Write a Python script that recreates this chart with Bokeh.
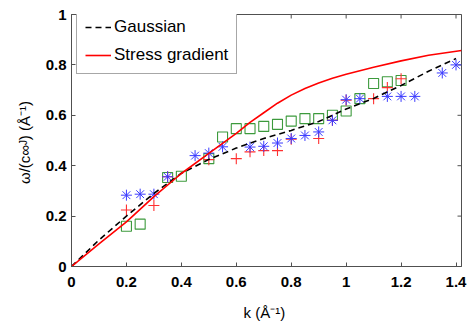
import math
from bokeh.plotting import figure
from bokeh.models import FixedTicker, Range1d, Legend, LegendItem
from bokeh.embed import file_html
from bokeh.resources import INLINE

# ---- data ----
k_star = [0.2, 0.25, 0.3, 0.35, 0.45, 0.5, 0.55, 0.65, 0.7, 0.75, 0.8, 0.85, 0.9,
          0.95, 1.0, 1.05, 1.15, 1.2, 1.25, 1.35, 1.4]
w_star = [0.283, 0.287, 0.287, 0.356, 0.44, 0.45, 0.475, 0.474, 0.477, 0.49, 0.508, 0.52,
          0.534, 0.58, 0.662, 0.666, 0.675, 0.675, 0.675, 0.768, 0.80]

k_plus = [0.2, 0.3, 0.35, 0.5, 0.6, 0.65, 0.7, 0.75, 0.8, 0.9, 0.95, 1.0, 1.1, 1.15, 1.2]
w_plus = [0.224, 0.242, 0.356, 0.424, 0.428, 0.455, 0.46, 0.46, 0.505, 0.508, 0.58, 0.66,
          0.666, 0.71, 0.745]

k_sq = [0.2, 0.25, 0.35, 0.4, 0.5, 0.55, 0.6, 0.65, 0.7, 0.75, 0.8, 0.85, 0.9, 0.95,
        1.0, 1.05, 1.1, 1.15, 1.2]
w_sq = [0.16, 0.168, 0.353, 0.358, 0.428, 0.514, 0.547, 0.547, 0.556, 0.564, 0.577, 0.587,
        0.587, 0.60, 0.617, 0.666, 0.726, 0.733, 0.738]

k_gauss = [0, 0.1, 0.2, 0.3, 0.4, 0.5, 0.6, 0.7, 0.8, 0.9, 1.0, 1.1, 1.2, 1.3, 1.4]
w_gauss = [0, 0.105, 0.2, 0.29, 0.37, 0.425, 0.47, 0.508, 0.54, 0.575, 0.625, 0.667,
           0.718, 0.775, 0.825]

k_stress = [0, 0.1, 0.2, 0.3, 0.4, 0.5, 0.6, 0.65, 0.7, 0.75, 0.8, 0.85, 0.9, 0.95,
            1.0, 1.1, 1.2, 1.3, 1.42]
w_stress = [0, 0.09, 0.177, 0.277, 0.369, 0.449, 0.528, 0.572, 0.61, 0.648, 0.68, 0.706,
            0.728, 0.747, 0.763, 0.791, 0.816, 0.838, 0.857]

x_ticks = [0, 0.2, 0.4, 0.6, 0.8, 1, 1.2, 1.4]
x_tick_labels = ["0", "0.2", "0.4", "0.6", "0.8", "1", "1.2", "1.4"]
y_ticks = [0, 0.2, 0.4, 0.6, 0.8, 1]
y_tick_labels = ["0", "0.2", "0.4", "0.6", "0.8", "1"]

X_MAX = 1.42
Y_MAX = 1.0

FONT = "Liberation Sans"
AXC = "#505050"

p = figure(width=468, height=327, output_backend="svg", toolbar_location=None,
           x_range=Range1d(0, X_MAX), y_range=Range1d(0, Y_MAX),
           min_border_left=71, min_border_right=7, min_border_top=14, min_border_bottom=61,
           x_axis_label="k  (Å⁻¹)", y_axis_label="ω/(c∞ᴶ)  (Å⁻¹)")
p.grid.visible = False
p.outline_line_color = AXC
p.background_fill_color = "white"
p.border_fill_color = "white"


def style_axis(ax, ticks, labels):
    ax.ticker = FixedTicker(ticks=ticks)
    ax.axis_line_color = AXC
    ax.major_tick_line_color = AXC
    ax.major_tick_in = 4
    ax.major_tick_out = 0
    ax.minor_tick_line_color = None
    ax.major_label_overrides = {t: l for t, l in zip(ticks, labels)}
    ax.major_label_text_font = FONT
    ax.major_label_text_font_size = "15px"
    ax.major_label_text_font_style = "bold"
    ax.major_label_text_color = "black"
    ax.axis_label_text_font = FONT
    ax.axis_label_text_font_size = "15px"
    ax.axis_label_text_font_style = "normal"
    ax.axis_label_text_color = "black"


style_axis(p.xaxis[0], x_ticks, x_tick_labels)
style_axis(p.yaxis[0], y_ticks, y_tick_labels)
p.xaxis[0].major_label_standoff = 10
p.xaxis[0].axis_label_standoff = 14
p.yaxis[0].major_label_standoff = 5
p.yaxis[0].axis_label_standoff = 10

# inward ticks on the top and right borders (half of each dash is clipped by the frame)
p.scatter(x_ticks, [Y_MAX] * len(x_ticks), marker="dash", size=8, angle=math.pi / 2,
          line_color=AXC, line_width=1)
p.scatter([X_MAX] * len(y_ticks), y_ticks, marker="dash", size=8, angle=0,
          line_color=AXC, line_width=1)

# markers
p.scatter(k_sq, w_sq, marker="square", size=10, fill_color=None,
          line_color="#3c9a3c", line_width=1.1)
p.scatter(k_plus, w_plus, marker="cross", size=11, line_color="#ff3030", line_width=1.1)
p.scatter(k_star, w_star, marker="asterisk", size=11, line_color="#3a3aff", line_width=1.0)

# curves
g = p.line(k_gauss, w_gauss, line_color="black", line_width=1.6, line_dash="6 4")
s = p.line(k_stress, w_stress, line_color="#ff0000", line_width=1.6)

legend = Legend(items=[LegendItem(label="Gaussian", renderers=[g]),
                       LegendItem(label="Stress gradient", renderers=[s])],
                location=(5, 192), orientation="vertical")
legend.label_text_font = FONT
legend.label_text_font_size = "17px"
legend.label_text_color = "black"
legend.glyph_width = 26
legend.glyph_height = 18
legend.label_height = 18
legend.label_standoff = 3
legend.spacing = 8
legend.padding = 8
legend.margin = 0
legend.border_line_color = AXC
legend.border_line_width = 1
legend.background_fill_color = "white"
legend.background_fill_alpha = 1
p.add_layout(legend, "center")

open("out.html", "w").write(file_html(p, INLINE))
